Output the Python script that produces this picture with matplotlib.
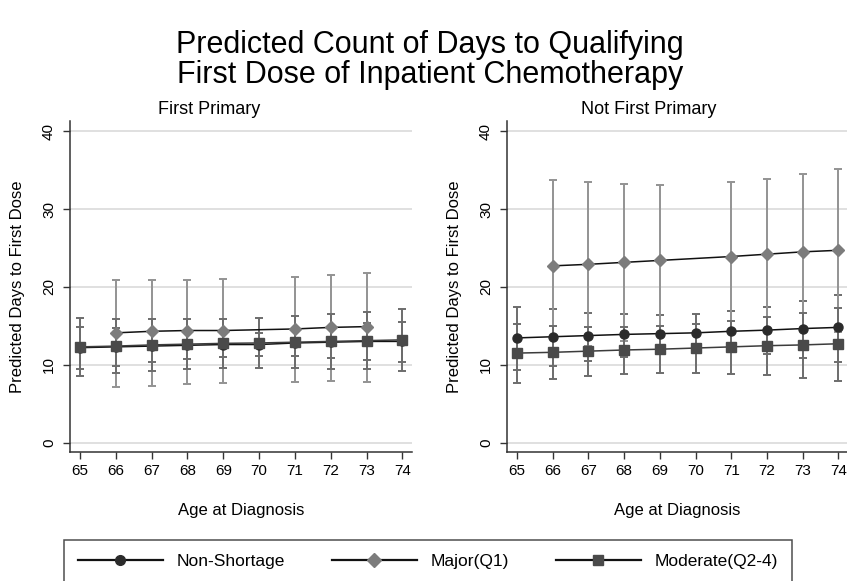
import numpy as np
import matplotlib
matplotlib.use("Agg")
import matplotlib.pyplot as plt
from matplotlib.lines import Line2D

plt.rcParams['font.family'] = ['Liberation Sans', 'DejaVu Sans']

ages = [65, 66, 67, 68, 69, 70, 71, 72, 73, 74]
nan = np.nan

# First Primary
fp_ns = [12.2, 12.3, 12.4, 12.5, 12.6, 12.6, 12.8, 12.9, 13.0, 13.0]
fp_ns_lo = [9.5, 9.85, 10.4, 10.7, 11.0, 11.1, 11.1, 10.9, 10.65, 10.4]
fp_ns_hi = [14.8, 14.75, 14.5, 14.35, 14.2, 14.1, 14.5, 14.9, 15.35, 15.5]
fp_maj = [nan, 14.1, 14.3, 14.4, 14.4, nan, 14.6, 14.8, 14.9, nan]
fp_maj_lo = [nan, 7.15, 7.3, 7.5, 7.6, nan, 7.8, 7.9, 7.75, nan]
fp_maj_hi = [nan, 20.9, 20.9, 20.9, 21.0, nan, 21.3, 21.5, 21.8, nan]
fp_mod = [12.3, 12.4, 12.55, 12.65, 12.75, 12.8, 12.9, 13.0, 13.1, 13.2]
fp_mod_lo = [8.56, 8.9, 9.2, 9.4, 9.55, 9.6, 9.6, 9.5, 9.4, 9.2]
fp_mod_hi = [16.05, 15.9, 15.9, 15.9, 15.9, 15.97, 16.2, 16.5, 16.8, 17.2]

# Not First Primary
nfp_ns = [13.45, 13.6, 13.75, 13.9, 14.0, 14.1, 14.3, 14.45, 14.65, 14.8]
nfp_ns_lo = [9.3, 9.9, 10.5, 11.05, 11.4, 11.7, 11.7, 11.35, 10.9, 10.4]
nfp_ns_hi = [17.4, 17.1, 16.7, 16.5, 16.4, 16.5, 16.9, 17.45, 18.2, 19.0]
nfp_maj = [nan, 22.7, 22.9, 23.15, 23.4, nan, 23.9, 24.2, 24.5, 24.7]
nfp_maj_lo = [nan, 11.7, 12.4, 13.1, 13.7, nan, 14.35, 14.6, 14.5, 14.2]
nfp_maj_hi = [nan, 33.7, 33.45, 33.2, 33.1, nan, 33.45, 33.8, 34.5, 35.1]
nfp_mod = [11.5, 11.6, 11.75, 11.9, 12.0, 12.15, 12.3, 12.45, 12.55, 12.7]
nfp_mod_lo = [7.7, 8.2, 8.55, 8.85, 9.0, 9.0, 8.85, 8.65, 8.3, 7.9]
nfp_mod_hi = [15.3, 15.0, 14.9, 14.9, 15.0, 15.3, 15.65, 16.1, 16.7, 17.3]

labels = ["Non-Shortage", "Major(Q1)", "Moderate(Q2-4)"]
markers = ['o', 'D', 's']
msizes = [6.5, 6.3, 6.6]
mcolors = ['#2b2b2b', '#7c7c7c', '#4a4a4a']
lcolors = ['#111111', '#111111', '#3c3c3c']
ecolors = ['#6c6c6c', '#939393', '#6c6c6c']

panels = [
    ("First Primary", [(fp_ns, fp_ns_lo, fp_ns_hi), (fp_maj, fp_maj_lo, fp_maj_hi), (fp_mod, fp_mod_lo, fp_mod_hi)]),
    ("Not First Primary", [(nfp_ns, nfp_ns_lo, nfp_ns_hi), (nfp_maj, nfp_maj_lo, nfp_maj_hi), (nfp_mod, nfp_mod_lo, nfp_mod_hi)]),
]

W, H = 847, 581
fig = plt.figure(figsize=(W / 100, H / 100), dpi=100)

ax_boxes = [(70, 121, 342, 330.7), (507, 121, 341, 330.7)]
title_x = [209, 649]

for (title, series), (x0, y0, w, h), tx in zip(panels, ax_boxes, title_x):
    ax = fig.add_axes([x0 / W, 1 - (y0 + h) / H, w / W, h / H])
    x = np.array(ages, dtype=float)
    # CIs first (under markers)
    for (y, lo, hi), ec in zip(series, ecolors):
        y, lo, hi = np.array(y), np.array(lo), np.array(hi)
        ok = ~np.isnan(y)
        ax.errorbar(x[ok], y[ok], yerr=[y[ok] - lo[ok], hi[ok] - y[ok]], fmt='none',
                    ecolor=ec, elinewidth=1.4, capsize=3, capthick=1.4, zorder=2)
    for (y, lo, hi), m, ms, mc, lc in zip(series, markers, msizes, mcolors, lcolors):
        y = np.array(y)
        ok = ~np.isnan(y)
        ax.plot(x[ok], y[ok], color=lc, lw=1.1, marker=m, ms=ms, mfc=mc, mec=mc, zorder=3)

    ax.set_xlim(64.72, 74.27)
    ax.set_ylim(-1.16, 41.3)
    ax.set_xticks(ages)
    ax.set_yticks([0, 10, 20, 30, 40])
    ax.set_yticklabels(['0', '10', '20', '30', '40'], rotation=90, va='center')
    ax.tick_params(axis='both', direction='out', length=5, width=1, color='#333333', labelsize=11)
    ax.tick_params(axis='x', pad=4)
    ax.tick_params(axis='y', pad=5)
    for s in ['top', 'right']:
        ax.spines[s].set_visible(False)
    for s in ['left', 'bottom']:
        ax.spines[s].set_color('#333333')
        ax.spines[s].set_linewidth(1.1)
    ax.yaxis.grid(True, color='#dddddd', lw=1.3)
    ax.set_axisbelow(True)
    ax.set_xlabel("Age at Diagnosis", fontsize=12, labelpad=18)
    ax.set_ylabel("Predicted Days to First Dose", fontsize=12, labelpad=12)
    fig.text(tx / W, 1 - 109 / H, title, ha='center', va='center', fontsize=13)

fig.text(430 / W, 1 - 45 / H, "Predicted Count of Days to Qualifying", ha='center', va='center', fontsize=22)
fig.text(430 / W, 1 - 75 / H, "First Dose of Inpatient Chemotherapy", ha='center', va='center', fontsize=22)

handles = [Line2D([], [], color='#111111', lw=1.6, marker=m, ms=ms + 0.5, mfc=mc, mec=mc)
           for m, ms, mc in zip(markers, msizes, mcolors)]
leg = fig.legend(handles, labels, loc='upper left', ncol=3, mode='expand',
                 bbox_to_anchor=(64 / W, 0, 728 / W, 1 - 540 / H), borderaxespad=0,
                 fontsize=12.5, handlelength=4.9, handletextpad=0.8, numpoints=1,
                 fancybox=False, edgecolor='#222222', borderpad=0.8, columnspacing=1.0)
leg.get_frame().set_linewidth(1.1)

fig.savefig("out.png", dpi=100)
